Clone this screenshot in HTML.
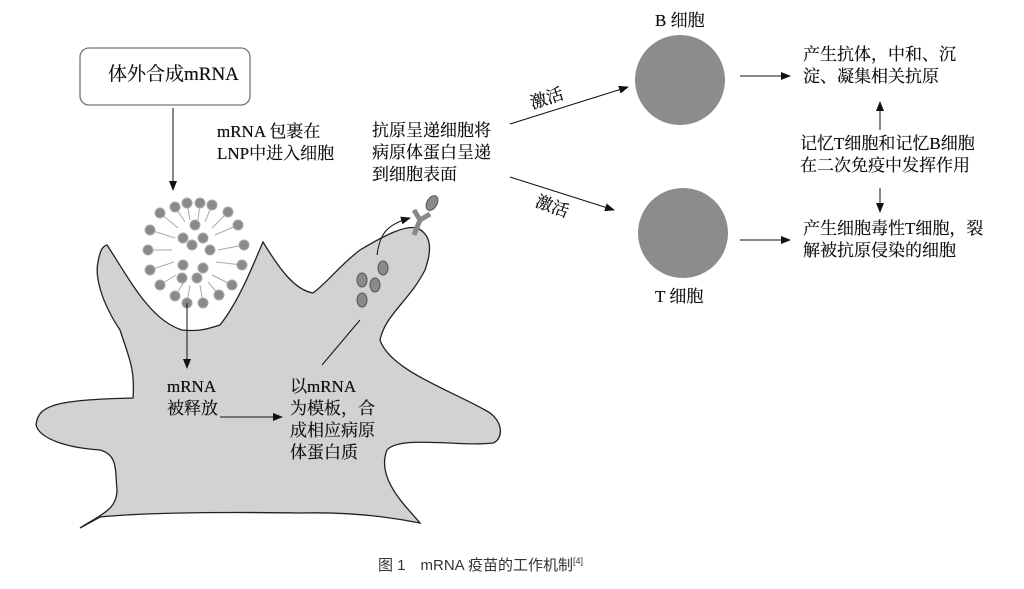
<!DOCTYPE html>
<html><head><meta charset="utf-8"><style>
body{margin:0;background:#fff;width:1024px;height:589px;overflow:hidden;position:relative;font-family:"Liberation Serif","Noto Serif CJK SC",serif;}
.t{position:absolute;font-size:17px;line-height:22px;color:#111;white-space:nowrap;text-shadow:0 0 0.4px #111}
</style></head><body>
<svg width="1024" height="589" style="position:absolute;left:0;top:0">
<defs><marker id="a" markerWidth="10" markerHeight="8" refX="9" refY="4" orient="auto" markerUnits="userSpaceOnUse"><path d="M0,0L10,4L0,8z" fill="#111"/></marker></defs>
<path d="M107,245 C130,280 150,320 182,330 C200,332 210,328 220,325 C240,300 255,260 263,242 C280,270 295,290 313,293 C330,280 340,265 360,250 C385,235 405,225 417,228 C432,235 432,250 425,270 C410,300 385,315 380,340 C390,370 450,390 485,410 C505,420 503,440 493,443 C460,447 400,435 387,450 C375,480 410,510 420,523 C380,515 340,512 300,513 C230,512 150,512 100,517 L80,528 C100,515 117,510 117,490 C115,470 118,455 100,450 C70,448 40,440 36,425 C38,405 55,400 133,398 C135,370 130,360 120,330 C100,300 95,275 98,262 C100,250 103,246 107,245Z" fill="#d2d2d2" stroke="#222" stroke-width="1.3"/>
<rect x="80" y="48" width="170" height="57" rx="9" fill="#fff" stroke="#777" stroke-width="1.3"/>
<line x1="173" y1="108" x2="173" y2="190" stroke="#111" marker-end="url(#a)"/>
<g stroke="#aaa" stroke-width="1" fill="none">
<path d="M175,207 L185,222 M187,203 L190,220 M200,203 L198,220 M212,205 L205,222 M160,213 L178,228 M228,212 L212,228 M150,230 L175,238 M238,225 L215,235 M148,250 L172,250 M244,245 L218,250 M150,270 L174,262 M242,265 L216,262 M160,285 L176,275 M232,285 L212,275 M175,296 L184,282 M203,303 L200,285 M219,295 L208,282 M187,303 L190,285"/>
</g>
<g fill="#8a8a8a" stroke="#aaa" stroke-width="1">
<circle cx="175" cy="207" r="5"/><circle cx="187" cy="203" r="5"/><circle cx="200" cy="203" r="5"/><circle cx="212" cy="205" r="5"/><circle cx="160" cy="213" r="5"/><circle cx="228" cy="212" r="5"/><circle cx="150" cy="230" r="5"/><circle cx="238" cy="225" r="5"/><circle cx="148" cy="250" r="5"/><circle cx="244" cy="245" r="5"/><circle cx="150" cy="270" r="5"/><circle cx="242" cy="265" r="5"/><circle cx="160" cy="285" r="5"/><circle cx="232" cy="285" r="5"/><circle cx="175" cy="296" r="5"/><circle cx="203" cy="303" r="5"/><circle cx="219" cy="295" r="5"/><circle cx="187" cy="303" r="5"/>
<circle cx="195" cy="225" r="5"/><circle cx="183" cy="238" r="5"/><circle cx="203" cy="238" r="5"/><circle cx="192" cy="245" r="5"/><circle cx="183" cy="265" r="5"/><circle cx="203" cy="268" r="5"/><circle cx="182" cy="278" r="5"/><circle cx="197" cy="278" r="5"/><circle cx="210" cy="250" r="5"/>
</g>
<line x1="187" y1="303" x2="187" y2="368" stroke="#111" marker-end="url(#a)"/>
<line x1="220" y1="417" x2="282" y2="417" stroke="#111" marker-end="url(#a)"/>
<line x1="322" y1="365" x2="360" y2="320" stroke="#111"/>
<path d="M377,255 C380,235 385,225 410,218" fill="none" stroke="#111" marker-end="url(#a)"/>
<g fill="#8a8a8a" stroke="#555"><ellipse cx="362" cy="280" rx="5" ry="7"/><ellipse cx="375" cy="285" rx="5" ry="7"/><ellipse cx="383" cy="268" rx="5" ry="7"/><ellipse cx="362" cy="300" rx="5" ry="7"/></g>
<path d="M414,235 L420,220 M420,220 L414,210 M420,220 L430,214" stroke="#888" stroke-width="5" fill="none"/>
<ellipse cx="432" cy="203" rx="5" ry="8" transform="rotate(30 432 203)" fill="#8a8a8a" stroke="#555"/>
<line x1="510" y1="124" x2="628" y2="87" stroke="#111" marker-end="url(#a)"/>
<line x1="510" y1="177" x2="614" y2="210" stroke="#111" marker-end="url(#a)"/>
<circle cx="680" cy="80" r="45" fill="#8c8c8c"/>
<circle cx="683" cy="233" r="45" fill="#8c8c8c"/>
<line x1="740" y1="76" x2="790" y2="76" stroke="#111" marker-end="url(#a)"/>
<line x1="740" y1="240" x2="790" y2="240" stroke="#111" marker-end="url(#a)"/>
<line x1="880" y1="130" x2="880" y2="102" stroke="#111" marker-end="url(#a)"/>
<line x1="880" y1="188" x2="880" y2="212" stroke="#111" marker-end="url(#a)"/>
</svg>
<div class="t" style="left:108px;top:64px;font-size:19px">体外合成mRNA</div>
<div class="t" style="left:217px;top:121px">mRNA 包裹在<br>LNP中进入细胞</div>
<div class="t" style="left:372px;top:120px">抗原呈递细胞将<br>病原体蛋白呈递<br>到细胞表面</div>
<div class="t" style="left:530px;top:88px;transform:rotate(-18deg)">激活</div>
<div class="t" style="left:535px;top:196px;transform:rotate(20deg)">激活</div>
<div class="t" style="left:655px;top:10px">B 细胞</div>
<div class="t" style="left:655px;top:286px">T 细胞</div>
<div class="t" style="left:803px;top:44px">产生抗体，中和、沉<br>淀、凝集相关抗原</div>
<div class="t" style="left:800px;top:133px">记忆T细胞和记忆B细胞<br>在二次免疫中发挥作用</div>
<div class="t" style="left:803px;top:218px">产生细胞毒性T细胞，裂<br>解被抗原侵染的细胞</div>
<div class="t" style="left:167px;top:376px">mRNA<br>被释放</div>
<div class="t" style="left:290px;top:376px">以mRNA<br>为模板，合<br>成相应病原<br>体蛋白质</div>
<div class="t" style="left:378px;top:550px;font-family:'Liberation Sans','Noto Sans CJK SC',sans-serif;font-size:15px;color:#333;text-shadow:none">图 1　mRNA 疫苗的工作机制<sup style="font-size:9px">[4]</sup></div>
</body></html>
